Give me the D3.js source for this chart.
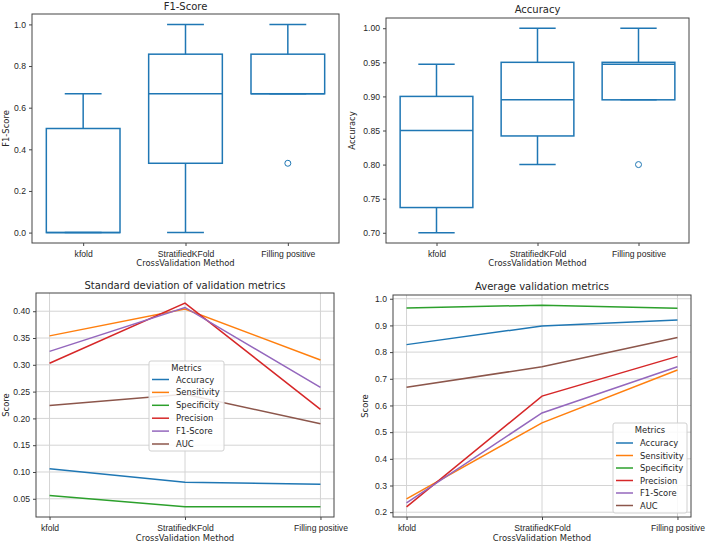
<!DOCTYPE html>
<html>
<head>
<meta charset="utf-8">
<script src="https://cdn.jsdelivr.net/npm/d3@7"></script>
<style>
  body { margin: 0; background: #fff; }
  svg { display: block; font-family: "DejaVu Sans", sans-serif; }
  text { fill: #262626; }
</style>
</head>
<body>
<div id="wrapper"></div>
<script>
// ---- data ----
const methods = ['kfold', 'StratifiedKFold', 'Filling positive'];

// box stats: [low whisker, q1, median, q3, high whisker]
const f1Boxes = [
    [0, 0, 0, 0.5, 0.667],
    [0, 0.333, 0.667, 0.857, 1.0],
    [0.667, 0.667, 0.667, 0.857, 1.0]
];
const f1Outliers = [[], [], [0.333]];

const accBoxes = [
    [0.70, 0.737, 0.85, 0.90, 0.947],
    [0.80, 0.842, 0.895, 0.95, 1.0],
    [0.895, 0.895, 0.947, 0.95, 1.0]
];
const accOutliers = [[], [], [0.80]];

const metricNames = ['Accuracy', 'Sensitivity', 'Specificity', 'Precision', 'F1-Score', 'AUC'];
const metricColors = ['#1f77b4', '#ff7f0e', '#2ca02c', '#d62728', '#9467bd', '#8c564b'];

const stdAccuracy    = [0.106, 0.081, 0.077];
const stdSensitivity = [0.354, 0.404, 0.309];
const stdSpecificity = [0.056, 0.035, 0.035];
const stdPrecision   = [0.303, 0.415, 0.217];
const stdF1          = [0.325, 0.407, 0.258];
const stdAUC         = [0.224, 0.245, 0.190];

const avgAccuracy    = [0.828, 0.898, 0.920];
const avgSensitivity = [0.250, 0.535, 0.733];
const avgSpecificity = [0.965, 0.976, 0.964];
const avgPrecision   = [0.220, 0.635, 0.784];
const avgF1          = [0.235, 0.572, 0.745];
const avgAUC         = [0.668, 0.745, 0.855];

const f1Ticks  = [0, 0.2, 0.4, 0.6, 0.8, 1.0];
const accTicks = [0.70, 0.75, 0.80, 0.85, 0.90, 0.95, 1.00];
const stdTicks = [0.05, 0.10, 0.15, 0.20, 0.25, 0.30, 0.35, 0.40];
const avgTicks = [0.2, 0.3, 0.4, 0.5, 0.6, 0.7, 0.8, 0.9, 1.0];

let svg = d3.select('#wrapper').append('svg').attr('width', 709).attr('height', 543);

let frameColor = '#444';
let tickFont = '8.6px';

// shared axis drawing
function drawAxes(g, box, x, y, ticks, fmt, grid) {
    let yAxis = d3.axisLeft(y).tickValues(ticks).tickFormat(d3.format(fmt)).tickSize(3).tickPadding(3);
    let ya = g.append('g').attr('transform', 'translate(' + box.l + ',0)').call(yAxis);
    let xAxis = d3.axisBottom(x).tickSize(3).tickPadding(3);
    let xa = g.append('g').attr('transform', 'translate(0,' + box.b + ')').call(xAxis);
    [ya, xa].forEach(a => {
        a.select('.domain').remove();
        a.selectAll('line').attr('stroke', frameColor);
        a.selectAll('text').style('font-size', tickFont).attr('fill', '#262626');
    });
    xa.selectAll('text').attr('dy', '0.9em');
    if (grid) {
        let gg = g.insert('g', ':first-child');
        gg.selectAll('.hg').data(ticks).enter().append('line')
            .attr('x1', box.l).attr('x2', box.r)
            .attr('y1', d => y(d)).attr('y2', d => y(d))
            .attr('stroke', '#d4d4d4').attr('stroke-width', 1);
        gg.selectAll('.vg').data(methods).enter().append('line')
            .attr('x1', d => x(d)).attr('x2', d => x(d))
            .attr('y1', box.t).attr('y2', box.b)
            .attr('stroke', '#d4d4d4').attr('stroke-width', 1);
    }
    g.append('rect').attr('x', box.l).attr('y', box.t)
        .attr('width', box.r - box.l).attr('height', box.b - box.t)
        .attr('fill', 'none').attr('stroke', frameColor).attr('stroke-width', 1);
}

function labels(g, box, title, titleY, ylab, ylabX, xlabY) {
    let cx = (box.l + box.r) / 2;
    g.append('text').text(title).attr('x', cx).attr('y', titleY)
        .attr('text-anchor', 'middle').style('font-size', '10px');
    g.append('text').text('CrossValidation Method').attr('x', cx).attr('y', xlabY)
        .attr('text-anchor', 'middle').style('font-size', '8.4px');
    g.append('text').text(ylab)
        .attr('transform', 'translate(' + ylabX + ',' + ((box.t + box.b) / 2) + ') rotate(-90)')
        .attr('text-anchor', 'middle').style('font-size', '8.4px');
}

function boxPanel(box, stats, outliers, domain, ticks, fmt, title, titleY, ylab, ylabX, xlabY) {
    let g = svg.append('g');
    let x = d3.scalePoint().domain(methods).range([box.l, box.r]).padding(0.5);
    let y = d3.scaleLinear().domain(domain).range([box.b, box.t]);
    drawAxes(g, box, x, y, ticks, fmt, false);

    let bw = x.step() * 0.72;
    let cw = bw / 2;
    let blue = '#1f77b4';
    let groups = g.selectAll('.bx').data(stats).enter().append('g').classed('bx', true)
        .attr('transform', (d, i) => 'translate(' + x(methods[i]) + ',0)')
        .attr('stroke', blue).attr('stroke-width', 1.5).attr('fill', 'none');
    groups.append('rect')
        .attr('x', -bw / 2).attr('width', bw)
        .attr('y', d => y(d[3])).attr('height', d => y(d[1]) - y(d[3]));
    groups.append('line').attr('x1', -bw / 2).attr('x2', bw / 2)
        .attr('y1', d => y(d[2])).attr('y2', d => y(d[2]));
    // whiskers
    groups.append('line').attr('x1', 0).attr('x2', 0)
        .attr('y1', d => y(d[3])).attr('y2', d => y(d[4]));
    groups.append('line').attr('x1', 0).attr('x2', 0)
        .attr('y1', d => y(d[1])).attr('y2', d => y(d[0]));
    // caps
    groups.append('line').attr('x1', -cw / 2).attr('x2', cw / 2)
        .attr('y1', d => y(d[4])).attr('y2', d => y(d[4]));
    groups.append('line').attr('x1', -cw / 2).attr('x2', cw / 2)
        .attr('y1', d => y(d[0])).attr('y2', d => y(d[0]));
    groups.each(function(d, i) {
        d3.select(this).selectAll('circle').data(outliers[i]).enter().append('circle')
            .attr('cx', 0).attr('cy', v => y(v)).attr('r', 3).attr('stroke-width', 1);
    });
    labels(g, box, title, titleY, ylab, ylabX, xlabY);
}

function linePanel(box, series, domain, ticks, fmt, title, titleY, ylabX, xlabY, leg) {
    let g = svg.append('g');
    let x = d3.scalePoint().domain(methods).range([box.l, box.r]).padding(0.1);
    let y = d3.scaleLinear().domain(domain).range([box.b, box.t]);
    drawAxes(g, box, x, y, ticks, fmt, true);

    let lineGen = d3.line().x((d, i) => x(methods[i])).y(d => y(d));
    g.selectAll('.ln').data(series).enter().append('path')
        .attr('d', lineGen).attr('fill', 'none')
        .attr('stroke', (d, i) => metricColors[i]).attr('stroke-width', 1.5);

    // legend
    let lg = g.append('g').attr('transform', 'translate(' + leg.x + ',' + leg.y + ')');
    lg.append('rect').attr('width', leg.w).attr('height', leg.h).attr('rx', 2)
        .attr('fill', 'rgba(255,255,255,0.85)').attr('stroke', '#d0d0d0');
    lg.append('text').text('Metrics').attr('x', leg.w / 2).attr('y', 10)
        .attr('text-anchor', 'middle').style('font-size', '8.4px');
    let items = lg.selectAll('.li').data(metricNames).enter().append('g')
        .attr('transform', (d, i) => 'translate(0,' + (leg.first + i * leg.step) + ')');
    items.append('line').attr('x1', leg.lx).attr('x2', leg.lx + 17)
        .attr('stroke', (d, i) => metricColors[i]).attr('stroke-width', 1.5);
    items.append('text').text(d => d).attr('x', leg.lx + 24).attr('y', 3)
        .style('font-size', '8.4px');

    labels(g, box, title, titleY, 'Score', ylabX, xlabY);
}

boxPanel({l: 32, r: 339, t: 14, b: 243}, f1Boxes, f1Outliers, [-0.05, 1.05], f1Ticks, '.1f',
    'F1-Score', 9.5, 'F1-Score', 9, 265.5);
boxPanel({l: 386, r: 689, t: 18, b: 243}, accBoxes, accOutliers, [0.685, 1.015], accTicks, '.2f',
    'Accuracy', 12.5, 'Accuracy', 355, 265.5);

linePanel({l: 36, r: 334, t: 293, b: 517},
    [stdAccuracy, stdSensitivity, stdSpecificity, stdPrecision, stdF1, stdAUC],
    [0.016, 0.434], stdTicks, '.2f', 'Standard deviation of validation metrics', 289, 8.5, 541,
    {x: 149, y: 361, w: 75, h: 90, first: 18.5, step: 12.9, lx: 3});
linePanel({l: 393, r: 691, t: 295, b: 517},
    [avgAccuracy, avgSensitivity, avgSpecificity, avgPrecision, avgF1, avgAUC],
    [0.182, 1.014], avgTicks, '.1f', 'Average validation metrics', 289.5, 368, 541,
    {x: 613, y: 423, w: 74, h: 90, first: 20, step: 12.5, lx: 3});
</script>
</body>
</html>
